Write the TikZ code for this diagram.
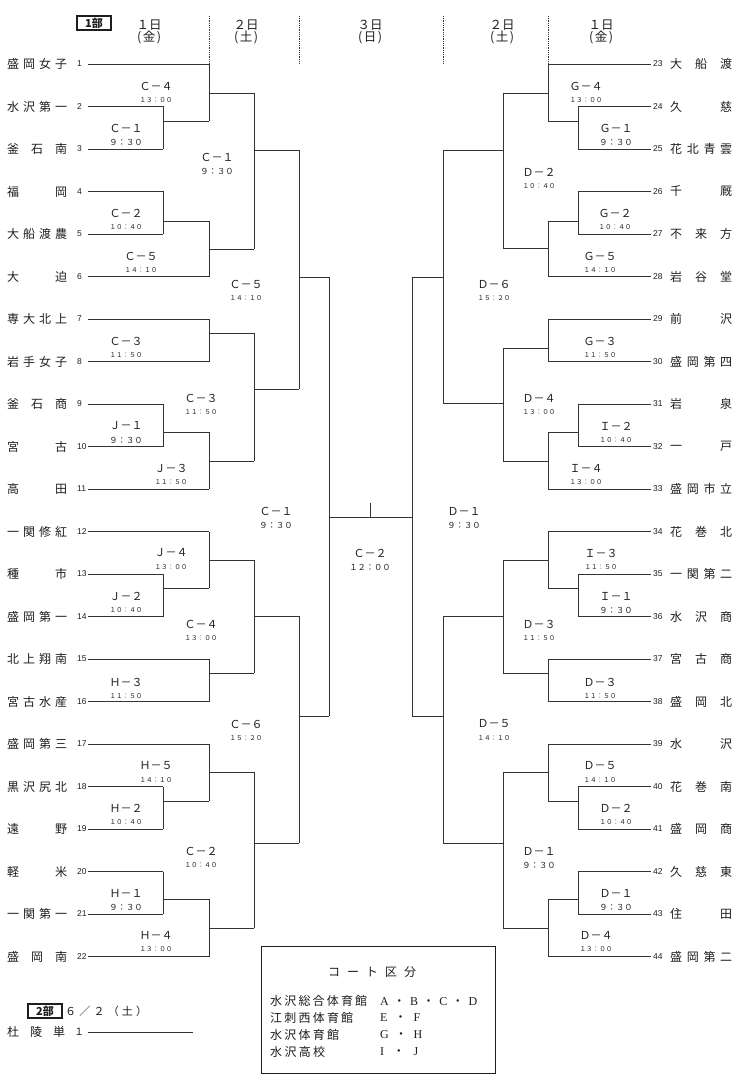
\documentclass[tikz,border=0pt]{standalone}
\usepackage{fontspec}
\setmainfont{Noto Sans CJK JP}
\newfontfamily\numfont{Liberation Sans}
\newfontfamily\serfont{Liberation Serif}
\newfontfamily\cjkfont{Noto Sans CJK JP}
\definecolor{ink}{HTML}{1E1E1E}
\definecolor{lin}{HTML}{333333}
\def\SpreadA#1{#1\SpreadB}
\def\SpreadB#1{\ifx#1\SpreadEnd\else\hfil#1\expandafter\SpreadB\fi}
\def\SpreadEnd{\relax}
\newcommand\spreadbox[2]{\makebox[#1][s]{\SpreadA#2\SpreadEnd}}
\newcommand\dt{{\cjkfont ・}}
\newcommand\TS[1]{{\fontsize{6.6}{7}\selectfont #1}}
\newcommand\TL[1]{{\fontsize{8.3}{9}\selectfont #1}}
\tikzset{
  br/.style={draw=lin, line width=0.95pt},
  lname/.style={anchor=west, inner sep=0pt, text=ink, font=\fontsize{12}{13}\selectfont},
  lnum/.style={anchor=west, inner sep=0pt, text=ink, font=\numfont\fontsize{8.5}{9}\selectfont},
  lab/.style={inner sep=0pt, text=ink, font=\fontsize{11}{12}\selectfont},
  tim/.style={inner sep=0pt, text=ink},
  hdr/.style={inner sep=0pt, text=ink, font=\fontsize{12.5}{13}\selectfont},
  dotv/.style={draw=lin, line width=0.8pt, densely dotted},
  leg/.style={anchor=west, inner sep=0pt, text=ink, font=\fontsize{12}{13}\selectfont},
}
\newcommand\LT[4]{%
  \node[lname] (L#1) at (7,#2) {\spreadbox{60pt}{#3}};
  \node[lnum] (N#1) at (77,#2) {#1};
  \coordinate (S#1) at (88,#2);
  \draw[br] (S#1) -- (#4,#2);}
\newcommand\RT[4]{%
  \node[lnum] (N#1) at (653,#2) {#1};
  \node[lname] (R#1) at (670,#2) {\spreadbox{62pt}{#3}};
  \coordinate (S#1) at (651,#2);
  \draw[br] (S#1) -- (#4,#2);}
\newcommand\BR[5]{\draw[br] (#1,#2) -- (#1,#3) (#1,#4) -- (#5,#4);}
\newcommand\ML[5]{\node[lab] (#1) at (#2,#3) {#4}; \node[tim] (#1t) at (#2,#3+14) {#5};}
\begin{document}
\begin{tikzpicture}[x=1pt,y=-1pt]
\useasboundingbox (0,0) rectangle (740,1086);
\fill[white] (0,0) rectangle (740,1086);
% header
\node[draw=ink, line width=1.1pt, minimum width=34pt, minimum height=14pt, inner sep=0pt, font=\fontsize{11}{12}\selectfont\bfseries, text=ink] (part1) at (94,23) {1部};
\node[hdr] (dA) at (149,25.5) {１日};
\node[hdr] (wA) at (149,37.5) {(\hspace{1.5pt}金\hspace{1.5pt})};
\node[hdr] (dB) at (246,25.5) {２日};
\node[hdr] (wB) at (246,37.5) {(\hspace{1.5pt}土\hspace{1.5pt})};
\node[hdr] (dC) at (370,25.5) {３日};
\node[hdr] (wC) at (370,37.5) {(\hspace{1.5pt}日\hspace{1.5pt})};
\node[hdr] (dD) at (502,25.5) {２日};
\node[hdr] (wD) at (502,37.5) {(\hspace{1.5pt}土\hspace{1.5pt})};
\node[hdr] (dE) at (601,25.5) {１日};
\node[hdr] (wE) at (601,37.5) {(\hspace{1.5pt}金\hspace{1.5pt})};
\draw[dotv] (209,16) -- (209,63);
\draw[dotv] (299,16) -- (299,64);
\draw[dotv] (443,16) -- (443,63);
\draw[dotv] (548,16) -- (548,63);
% left teams
\LT{1}{64}{盛岡女子}{209}
\LT{2}{106.5}{水沢第一}{163}
\LT{3}{149}{釜石南}{163}
\LT{4}{191.5}{福岡}{163}
\LT{5}{234}{大船渡農}{163}
\LT{6}{276.5}{大迫}{209}
\LT{7}{319}{専大北上}{209}
\LT{8}{361.5}{岩手女子}{209}
\LT{9}{404}{釜石商}{163}
\LT{10}{446.5}{宮古}{163}
\LT{11}{489}{高田}{209}
\LT{12}{531.5}{一関修紅}{209}
\LT{13}{574}{種市}{163}
\LT{14}{616.5}{盛岡第一}{163}
\LT{15}{659}{北上翔南}{209}
\LT{16}{701.5}{宮古水産}{209}
\LT{17}{744}{盛岡第三}{209}
\LT{18}{786.5}{黒沢尻北}{163}
\LT{19}{829}{遠野}{163}
\LT{20}{871.5}{軽米}{163}
\LT{21}{914}{一関第一}{163}
\LT{22}{956.5}{盛岡南}{209}
% right teams
\RT{23}{64}{大船渡}{548}
\RT{24}{106.5}{久慈}{578}
\RT{25}{149}{花北青雲}{578}
\RT{26}{191.5}{千厩}{578}
\RT{27}{234}{不来方}{578}
\RT{28}{276.5}{岩谷堂}{548}
\RT{29}{319}{前沢}{548}
\RT{30}{361.5}{盛岡第四}{548}
\RT{31}{404}{岩泉}{578}
\RT{32}{446.5}{一戸}{578}
\RT{33}{489}{盛岡市立}{548}
\RT{34}{531.5}{花巻北}{548}
\RT{35}{574}{一関第二}{578}
\RT{36}{616.5}{水沢商}{578}
\RT{37}{659}{宮古商}{548}
\RT{38}{701.5}{盛岡北}{548}
\RT{39}{744}{水沢}{548}
\RT{40}{786.5}{花巻南}{578}
\RT{41}{829}{盛岡商}{578}
\RT{42}{871.5}{久慈東}{578}
\RT{43}{914}{住田}{578}
\RT{44}{956.5}{盛岡第二}{548}
% left brackets
\BR{163}{106.5}{149}{121}{209}
\BR{163}{191.5}{234}{221}{209}
\BR{163}{404}{446.5}{432}{209}
\BR{163}{574}{616.5}{588}{209}
\BR{163}{786.5}{829}{801}{209}
\BR{163}{871.5}{914}{899}{209}
\BR{209}{64}{121}{93}{254}
\BR{209}{221}{276.5}{249}{254}
\BR{209}{319}{361.5}{333}{254}
\BR{209}{432}{489}{461}{254}
\BR{209}{531.5}{588}{560}{254}
\BR{209}{659}{701.5}{673}{254}
\BR{209}{744}{801}{772}{254}
\BR{209}{899}{956.5}{928}{254}
\BR{254}{93}{249}{150}{299}
\BR{254}{333}{461}{389}{299}
\BR{254}{560}{673}{616}{299}
\BR{254}{772}{928}{843}{299}
\BR{299}{150}{389}{277}{329}
\BR{299}{616}{843}{716}{329}
\BR{329}{277}{716}{517}{412}
% right brackets
\BR{578}{106.5}{149}{121}{548}
\BR{578}{191.5}{234}{221}{548}
\BR{578}{404}{446.5}{432}{548}
\BR{578}{574}{616.5}{588}{548}
\BR{578}{786.5}{829}{801}{548}
\BR{578}{871.5}{914}{899}{548}
\BR{548}{64}{121}{93}{503}
\BR{548}{221}{276.5}{248}{503}
\BR{548}{319}{361.5}{348}{503}
\BR{548}{432}{489}{461}{503}
\BR{548}{531.5}{588}{560}{503}
\BR{548}{659}{701.5}{673}{503}
\BR{548}{744}{801}{772}{503}
\BR{548}{899}{956.5}{928}{503}
\BR{503}{93}{248}{150}{443}
\BR{503}{348}{461}{403}{443}
\BR{503}{560}{673}{616}{443}
\BR{503}{772}{928}{843}{443}
\BR{443}{150}{403}{277}{412}
\BR{443}{616}{843}{716}{412}
\draw[br] (412,277) -- (412,716);
\coordinate (fin) at (370,517);
\draw[br] (fin) -- (370,503);
% left labels
\ML{a1}{156}{86}{Ｃ－４}{\TS{１３：００}}
\ML{a2}{126}{128}{Ｃ－１}{\TL{９：３０}}
\ML{a3}{217}{157}{Ｃ－１}{\TL{９：３０}}
\ML{a4}{126}{213}{Ｃ－２}{\TS{１０：４０}}
\ML{a5}{141}{256}{Ｃ－５}{\TS{１４：１０}}
\ML{a6}{246}{284}{Ｃ－５}{\TS{１４：１０}}
\ML{a7}{126}{341}{Ｃ－３}{\TS{１１：５０}}
\ML{a8}{201}{398}{Ｃ－３}{\TS{１１：５０}}
\ML{a9}{126}{426}{Ｊ－１}{\TL{９：３０}}
\ML{a10}{171}{468}{Ｊ－３}{\TS{１１：５０}}
\ML{a11}{276}{511}{Ｃ－１}{\TL{９：３０}}
\ML{a12}{171}{553}{Ｊ－４}{\TS{１３：００}}
\ML{a13}{126}{596}{Ｊ－２}{\TS{１０：４０}}
\ML{a14}{201}{624}{Ｃ－４}{\TS{１３：００}}
\ML{a15}{126}{682}{Ｈ－３}{\TS{１１：５０}}
\ML{a16}{246}{724}{Ｃ－６}{\TS{１５：２０}}
\ML{a17}{156}{766}{Ｈ－５}{\TS{１４：１０}}
\ML{a18}{126}{808}{Ｈ－２}{\TS{１０：４０}}
\ML{a19}{201}{851}{Ｃ－２}{\TS{１０：４０}}
\ML{a20}{126}{893}{Ｈ－１}{\TL{９：３０}}
\ML{a21}{156}{935}{Ｈ－４}{\TS{１３：００}}
\ML{fin0}{370}{553}{Ｃ－２}{\TL{１２：００}}
% right labels
\ML{b1}{586}{86}{Ｇ－４}{\TS{１３：００}}
\ML{b2}{616}{128}{Ｇ－１}{\TL{９：３０}}
\ML{b3}{539}{172}{Ｄ－２}{\TS{１０：４０}}
\ML{b4}{615}{213}{Ｇ－２}{\TS{１０：４０}}
\ML{b5}{600}{256}{Ｇ－５}{\TS{１４：１０}}
\ML{b6}{494}{284}{Ｄ－６}{\TS{１５：２０}}
\ML{b7}{600}{341}{Ｇ－３}{\TS{１１：５０}}
\ML{b8}{539}{398}{Ｄ－４}{\TS{１３：００}}
\ML{b9}{616}{426}{Ｉ－２}{\TS{１０：４０}}
\ML{b10}{586}{468}{Ｉ－４}{\TS{１３：００}}
\ML{b11}{464}{511}{Ｄ－１}{\TL{９：３０}}
\ML{b12}{601}{553}{Ｉ－３}{\TS{１１：５０}}
\ML{b13}{616}{596}{Ｉ－１}{\TL{９：３０}}
\ML{b14}{539}{624}{Ｄ－３}{\TS{１１：５０}}
\ML{b15}{600}{682}{Ｄ－３}{\TS{１１：５０}}
\ML{b16}{494}{724}{Ｄ－５}{\TS{１４：１０}}
\ML{b17}{600}{766}{Ｄ－５}{\TS{１４：１０}}
\ML{b18}{616}{808}{Ｄ－２}{\TS{１０：４０}}
\ML{b19}{539}{851}{Ｄ－１}{\TL{９：３０}}
\ML{b20}{616}{893}{Ｄ－１}{\TL{９：３０}}
\ML{b21}{596}{935}{Ｄ－４}{\TS{１３：００}}
% part 2
\node[draw=ink, line width=1.1pt, minimum width=34pt, minimum height=14pt, inner sep=0pt, font=\fontsize{11}{12}\selectfont\bfseries, text=ink] (part2) at (45,1011) {2部};
\node[lname, font=\fontsize{11}{12}\selectfont] (date2) at (65,1011) {\spreadbox{82pt}{６／２（土）}};
\node[lname] (T45) at (7,1032) {\spreadbox{58pt}{杜陵単}};
\node[lname, font=\fontsize{10}{11}\selectfont] (N45) at (74,1032) {１};
\coordinate (S45) at (88,1032);
\draw[br] (S45) -- (193,1032);
% legend
\node[draw=ink, line width=0.9pt, minimum width=234pt, minimum height=127pt, inner sep=0pt, anchor=north west] (legend) at (261,946) {};
\node[inner sep=0pt, text=ink, font=\fontsize{12}{13}\selectfont] (legT) at (372,972) {\spreadbox{88pt}{コート区分}};
\node[leg] (g1) at (270,1001) {\spreadbox{97pt}{水沢総合体育館}};
\node[leg] (g2) at (270,1018) {\spreadbox{83pt}{江刺西体育館}};
\node[leg] (g3) at (270,1035) {\spreadbox{69pt}{水沢体育館}};
\node[leg] (g4) at (270,1052) {\spreadbox{55pt}{水沢高校}};
\node[leg, font=\serfont\fontsize{12}{13}\selectfont] (h1) at (380,1002) {\spreadbox{97pt}{A\dt B\dt C\dt D}};
\node[leg, font=\serfont\fontsize{12}{13}\selectfont] (h2) at (380,1018) {\spreadbox{40pt}{E\dt F}};
\node[leg, font=\serfont\fontsize{12}{13}\selectfont] (h3) at (380,1035) {\spreadbox{42pt}{G\dt H}};
\node[leg, font=\serfont\fontsize{12}{13}\selectfont] (h4) at (380,1052) {\spreadbox{38pt}{I\dt J}};
\end{tikzpicture}
\end{document}
